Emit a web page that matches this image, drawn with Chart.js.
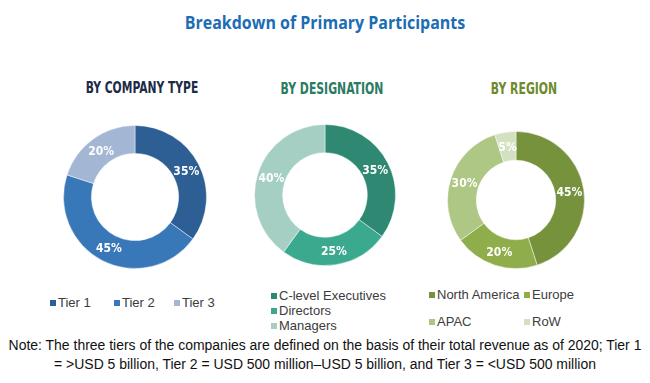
<!DOCTYPE html>
<html>
<head>
<meta charset="utf-8">
<script src="https://cdn.jsdelivr.net/npm/chart.js@4.4.0/dist/chart.umd.min.js"></script>
<style>
  body { margin: 0; background: #fff; }
  #wrap { position: relative; width: 650px; height: 383px; overflow: hidden; font-family: "Liberation Sans", Arial, sans-serif; }
  .t { position: absolute; white-space: nowrap; line-height: 1; }
  canvas { position: absolute; }
  .lg { position: absolute; font-size: 13px; color: #3c3c3c; white-space: nowrap; line-height: 15px; }
  .lg i { display: inline-block; width: 6px; height: 6px; margin-right: 2px; vertical-align: 1px; }
</style>
</head>
<body>
<div id="wrap">
  <div class="t" id="titulo" data-cx="325" data-cy="22" data-w="280"
       style="font: bold 17px 'Open Sans', sans-serif; color: #1b6db4;"></div>

  <div class="t sub" data-cx="142" data-cy="88" data-w="113" style="color:#1c2b47;"></div>
  <div class="t sub" data-cx="332" data-cy="89" data-w="103" style="color:#2b7b63;"></div>
  <div class="t sub" data-cx="524" data-cy="89" data-w="66" style="color:#6d8a2f;"></div>

  <canvas id="chartEmpresa" width="144" height="144" style="left:63px; top:125px;"></canvas>
  <canvas id="chartCargo" width="142" height="142" style="left:254px; top:124px;"></canvas>
  <canvas id="chartRegiao" width="138" height="138" style="left:447px; top:131px;"></canvas>

  <div id="legendas"></div>

  <div class="t nota" id="nota1" data-cx="325" data-cy="345" data-w="633" style="font-size:14px; color:#111;"></div>
  <div class="t nota" id="nota2" data-cx="325" data-cy="364" style="font-size:14px; color:#111;"></div>
</div>

<script>
// -- dados --
const titulo = 'Breakdown of Primary Participants';
const subtitulos = ['BY COMPANY TYPE', 'BY DESIGNATION', 'BY REGION'];

const tiposEmpresa = ['Tier 1', 'Tier 2', 'Tier 3'];
const valoresEmpresa = [35, 45, 20];

const cargos = ['C-level Executives', 'Directors', 'Managers'];
const valoresCargos = [35, 25, 40];

const regioes = ['North America', 'Europe', 'APAC', 'RoW'];
const valoresRegioes = [45, 20, 30, 5];

const notas = [
  'Note: The three tiers of the companies are defined on the basis of their total revenue as of 2020; Tier 1',
  '= >USD 5 billion, Tier 2 = USD 500 million\u2013USD 5 billion, and Tier 3 = <USD 500 million'
];

const coresEmpresa = ['#2d5f94', '#3877b8', '#a3b6d4'];
const coresCargos = ['#2e8872', '#3aa98e', '#a6cfc4'];
const coresRegioes = ['#77923d', '#8fae4b', '#aec784', '#d3e1c1'];

// -- textos --
document.getElementById('titulo').textContent = titulo;
document.querySelectorAll('.sub').forEach((el, i) => {
  el.textContent = subtitulos[i];
  el.style.font = 'bold 15px "DejaVu Sans Condensed", sans-serif';
});
document.getElementById('nota1').textContent = notas[0];
document.getElementById('nota2').textContent = notas[1];

// centraliza e ajusta largura
let escalaNota = 1;
document.querySelectorAll('.t').forEach(el => {
  const w = el.offsetWidth;
  let s = 1;
  if (el.dataset.w) s = parseFloat(el.dataset.w) / w;
  if (el.id === 'nota1') escalaNota = s;
  if (el.id === 'nota2') s = escalaNota;
  el.style.left = el.dataset.cx + 'px';
  el.style.top = el.dataset.cy + 'px';
  el.style.transform = `translate(-50%, -50%) scaleX(${s})`;
});

// -- legendas --
const legendas = document.getElementById('legendas');
function addLegenda(texto, cor, x, y) {
  const d = document.createElement('div');
  d.className = 'lg';
  d.style.left = x + 'px';
  d.style.top = (y - 8) + 'px';
  d.innerHTML = `<i style="background:${cor}"></i>${texto}`;
  legendas.appendChild(d);
}
const posEmpresa = [[50, 303], [114, 303], [174, 303]];
tiposEmpresa.forEach((t, i) => addLegenda(t, coresEmpresa[i], posEmpresa[i][0], posEmpresa[i][1]));
const posCargos = [[271, 296], [271, 311], [271, 326]];
cargos.forEach((t, i) => addLegenda(t, coresCargos[i], posCargos[i][0], posCargos[i][1]));
const posRegioes = [[429, 295], [524, 295], [429, 322], [524, 322]];
regioes.forEach((t, i) => addLegenda(t, coresRegioes[i], posRegioes[i][0], posRegioes[i][1]));

// -- rótulos de porcentagem dentro do anel --
const rotulosPlugin = {
  id: 'rotulos',
  afterDatasetsDraw(chart) {
    const ctx = chart.ctx;
    const meta = chart.getDatasetMeta(0);
    const valores = chart.data.datasets[0].data;
    ctx.save();
    ctx.font = 'bold 12px "DejaVu Sans Condensed", sans-serif';
    ctx.fillStyle = '#fff';
    ctx.textAlign = 'center';
    ctx.textBaseline = 'middle';
    meta.data.forEach((arc, i) => {
      const p = arc.tooltipPosition();
      ctx.fillText(valores[i] + '%', p.x, p.y + 1);
    });
    ctx.restore();
  }
};

function criarRosca(id, labels, valores, cores, cutout) {
  const ctx = document.getElementById(id).getContext('2d');
  return new Chart(ctx, {
    type: 'doughnut',
    data: {
      labels,
      datasets: [{
        data: valores,
        backgroundColor: cores,
        borderColor: 'rgba(255,255,255,0.45)',
        borderWidth: 1
      }]
    },
    options: {
      responsive: false,
      animation: false,
      cutout: cutout,
      layout: { padding: 0 },
      plugins: { legend: { display: false }, tooltip: { enabled: false } }
    },
    plugins: [rotulosPlugin]
  });
}

criarRosca('chartEmpresa', tiposEmpresa, valoresEmpresa, coresEmpresa, '61%');
criarRosca('chartCargo', cargos, valoresCargos, coresCargos, '60%');
criarRosca('chartRegiao', regioes, valoresRegioes, coresRegioes, '58%');
</script>
</body>
</html>
